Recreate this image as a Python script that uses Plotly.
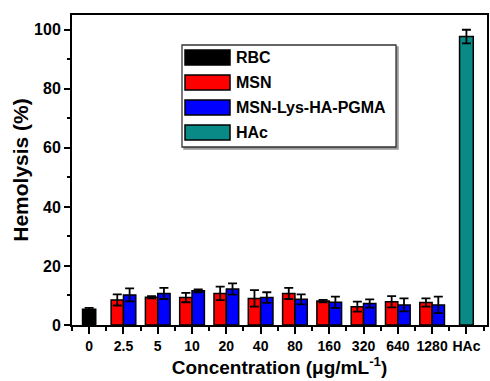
import plotly.graph_objects as go

# Hemolysis (%) per concentration group, mean and error
categories = ['0', '2.5', '5', '10', '20', '40', '80', '160', '320', '640', '1280', 'HAc']

rbc_value = [5.3]
rbc_error = [0.5]

msn_values = [8.5, 9.4, 9.3, 10.7, 9.0, 10.7, 8.1, 6.2, 7.9, 7.6]
msn_errors = [1.9, 0.4, 1.6, 2.3, 2.8, 1.9, 0.4, 1.7, 1.9, 1.4]

pgma_values = [10.2, 10.7, 11.6, 12.2, 9.3, 8.7, 7.7, 7.3, 6.8, 6.8]
pgma_errors = [2.2, 1.9, 0.5, 1.9, 1.8, 1.7, 1.9, 1.4, 2.2, 2.8]

hac_value = [97.7]
hac_error = [2.3]

series_names = ['RBC', 'MSN', 'MSN-Lys-HA-PGMA', 'HAc']
series_colors = ['#000000', '#ff0000', '#0000ff', '#0a8a86']

FONT = 'Liberation Sans, Arial, sans-serif'
W, H = 490, 381
ML, MR, MT, MB = 72, 3, 15, 56

pos = list(range(len(categories)))
conc_pos = pos[1:11]

outline = dict(color='black', width=1.5)


def err(vals):
    return dict(type='data', array=vals, visible=True, color='black',
                thickness=1.8, width=4.5)


fig = go.Figure()
fig.add_trace(go.Bar(x=[pos[0]], y=rbc_value, width=0.385,
                     marker=dict(color=series_colors[0], line=outline),
                     error_y=err(rbc_error), name=series_names[0]))
fig.add_trace(go.Bar(x=conc_pos, y=msn_values, width=0.36, offset=-0.36,
                     marker=dict(color=series_colors[1], line=outline),
                     error_y=err(msn_errors), name=series_names[1]))
fig.add_trace(go.Bar(x=conc_pos, y=pgma_values, width=0.36, offset=0.0,
                     marker=dict(color=series_colors[2], line=outline),
                     error_y=err(pgma_errors), name=series_names[2]))
fig.add_trace(go.Bar(x=[pos[11]], y=hac_value, width=0.4,
                     marker=dict(color=series_colors[3], line=outline),
                     error_y=err(hac_error), name=series_names[3]))

# legend drawn as a framed box with large swatches
pw, ph = W - ML - MR, H - MT - MB


def px(x):
    return (x - ML) / pw


def py(y):
    return (H - MB - y) / ph


shapes = []
annotations = []
box_l, box_r, box_t, box_b = 182, 396, 45, 147
shapes.append(dict(type='rect', xref='paper', yref='paper',
                   x0=px(box_l + 2), x1=px(box_r + 2), y0=py(box_b + 2), y1=py(box_t + 2),
                   line=dict(color='#9a9a9a', width=1.5), fillcolor='#9a9a9a', layer='above'))
shapes.append(dict(type='rect', xref='paper', yref='paper',
                   x0=px(box_l), x1=px(box_r), y0=py(box_b), y1=py(box_t),
                   line=dict(color='#333333', width=1.3), fillcolor='white', layer='above'))
for i, (name, col) in enumerate(zip(series_names, series_colors)):
    top = 50 + 25 * i
    shapes.append(dict(type='rect', xref='paper', yref='paper',
                       x0=px(185), x1=px(230), y0=py(top + 15), y1=py(top),
                       line=dict(color='black', width=1.5), fillcolor=col, layer='above'))
    annotations.append(dict(xref='paper', yref='paper', x=px(234), y=py(top + 7.5),
                            xanchor='left', yanchor='middle', showarrow=False,
                            text=name, font=dict(family=FONT, size=16, color='black', weight='bold')))

fig.update_layout(
    width=W, height=H,
    margin=dict(l=ML, r=MR, t=MT, b=MB),
    paper_bgcolor='white', plot_bgcolor='white',
    showlegend=False,
    barmode='overlay',
    shapes=shapes,
    annotations=annotations,
    font=dict(family=FONT, color='black'),
)

fig.update_xaxes(
    range=[-0.5, 11.6],
    tickmode='array', tickvals=pos, ticktext=categories,
    ticks='outside', ticklen=7, tickwidth=1.8, tickcolor='black',
    minor=dict(tick0=0.5, dtick=1, ticks='outside', ticklen=4, tickwidth=1.5, tickcolor='black'),
    showline=True, linecolor='black', linewidth=2, mirror=True,
    showgrid=False, zeroline=False,
    tickfont=dict(family=FONT, size=14, color='black', weight='bold'),
    title=dict(text='Concentration (μg/mL<sup>-1</sup>)', standoff=5,
               font=dict(family=FONT, size=19, color='black', weight='bold')),
    automargin=False,
)
fig.update_yaxes(
    range=[0, 105],
    tickvals=[0, 20, 40, 60, 80, 100],
    ticks='outside', ticklen=6, tickwidth=1.8, tickcolor='black',
    minor=dict(tick0=10, dtick=20, ticks='outside', ticklen=3, tickwidth=1.5, tickcolor='black'),
    showline=True, linecolor='black', linewidth=2, mirror=True,
    showgrid=False, zeroline=False,
    tickfont=dict(family=FONT, size=16, color='black', weight='bold'),
    title=dict(text='Hemolysis (%)', standoff=0,
               font=dict(family=FONT, size=21, color='black', weight='bold')),
    automargin=False,
)

fig.write_html('out.html')
